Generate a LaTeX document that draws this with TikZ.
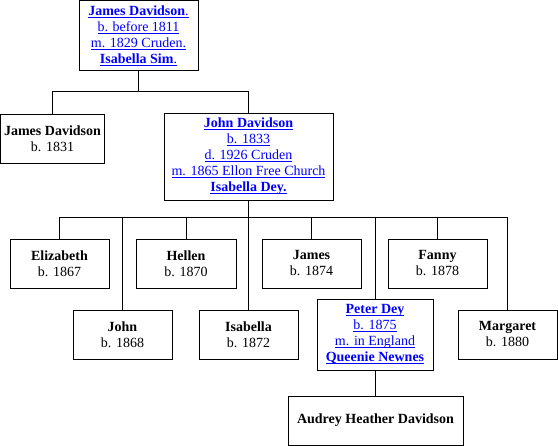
\documentclass[tikz,border=0pt]{standalone}
\usepackage{fontspec}
\setmainfont{Liberation Serif}
\definecolor{linkblue}{RGB}{0,0,255}
\newcommand{\lk}[1]{{\color{linkblue}\setbox0\hbox{#1}\rlap{\rule[-2.2pt]{\wd0}{0.8pt}}\box0}}
\tikzset{
  person/.style={draw, line width=0.8pt, inner sep=0pt, align=center,
    font=\fontsize{14}{16}\selectfont, minimum width=99pt, minimum height=49pt},
  conn/.style={line width=0.8pt}
}
\begin{document}
\begin{tikzpicture}[x=1pt,y=1pt]
\useasboundingbox (0,0) rectangle (558,-446);
\node[person, minimum width=119pt, minimum height=70pt] (tb) at (138.5,-35.5)
  {\lk{\textbf{James Davidson}.}\\ \lk{b. before 1811}\\ \lk{m. 1829 Cruden.}\\ \lk{\textbf{Isabella Sim}.}};
\node[person, minimum width=104pt] (jd1) at (52.5,-138.5) {\textbf{James Davidson}\\ b. 1831};
\node[person, minimum width=169pt, minimum height=87pt] (jdj) at (248.5,-156.5)
  {\lk{\textbf{John Davidson}}\\ \lk{b. 1833}\\ \lk{d. 1926 Cruden}\\ \lk{m. 1865 Ellon Free Church}\\ \lk{\textbf{Isabella Dey.}}};
\node[person] (eliz) at (59.5,-263.5) {\textbf{Elizabeth}\\ b. 1867};
\node[person, minimum width=100pt] (hell) at (186,-263.5) {\textbf{Hellen}\\ b. 1870};
\node[person] (jame) at (311.5,-263.5) {\textbf{James}\\ b. 1874};
\node[person] (fann) at (437.5,-263.5) {\textbf{Fanny}\\ b. 1878};
\node[person] (john) at (122.5,-334.5) {\textbf{John}\\ b. 1868};
\node[person] (isab) at (248.5,-334.5) {\textbf{Isabella}\\ b. 1872};
\node[person, minimum width=116pt, minimum height=71pt] (pete) at (375,-334.5)
  {\lk{\textbf{Peter Dey}}\\ \lk{b. 1875}\\ \lk{m. in England}\\ \lk{\textbf{Queenie Newnes}}};
\node[person] (marg) at (507.5,-334.5) {\textbf{Margaret}\\ b. 1880};
\node[person, minimum width=175pt] (audr) at (375.5,-420.5) {\textbf{Audrey Heather Davidson}};
\coordinate (b1) at (tb.south |- 0,-91);
\draw[conn] (tb.south) -- (b1) -| (jd1.north);
\draw[conn] (b1) -| (jdj.north);
\coordinate (b2) at (jdj.south |- 0,-217);
\draw[conn] (jdj.south) -- (b2);
\foreach \c in {eliz,hell,jame,fann,john,isab,pete,marg}
  \draw[conn] (b2) -| (\c.north);
\draw[conn] (pete.south) -- (pete.south |- audr.north);
\end{tikzpicture}
\end{document}
